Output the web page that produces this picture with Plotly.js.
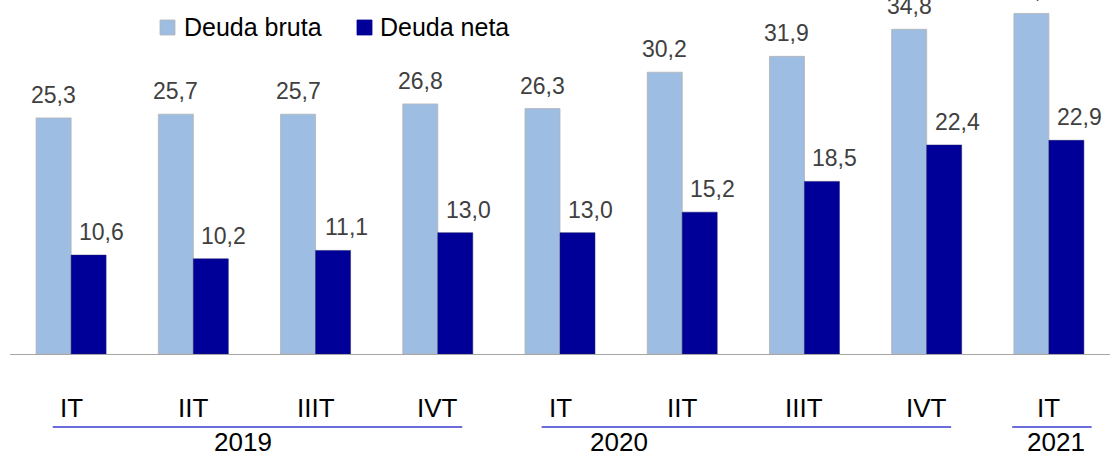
<!DOCTYPE html>
<html>
<head>
<meta charset="utf-8">
<script src="https://cdn.plot.ly/plotly-3.0.1.min.js"></script>
<style>html,body{margin:0;padding:0;background:#fff;}#chart{width:1110px;height:457px;}</style>
</head>
<body>
<div id="chart"></div>
<script>
// ---- data ----
var quarters = ["IT", "IIT", "IIIT", "IVT", "IT", "IIT", "IIIT", "IVT", "IT"];
var years = ["2019", "2019", "2019", "2019", "2020", "2020", "2020", "2020", "2021"];
var seriesNames = ["Deuda bruta", "Deuda neta"];
var deudaBruta = [25.3, 25.7, 25.7, 26.8, 26.3, 30.2, 31.9, 34.8, 36.5];
var deudaNeta = [10.6, 10.2, 11.1, 13.0, 13.0, 15.2, 18.5, 22.4, 22.9];
var yearGroups = ["2019", "2020", "2021"];

// ---- style / layout constants ----
var W = 1110, H = 457, ML = 10, MR = 0, MT = 0, MB = 103;
var PW = W - ML - MR, PH = H - MT - MB;
var colBruta = "#9dbde3", colNeta = "#000099";
var FONT = "Liberation Sans, Arial, sans-serif";
function px2px(x) { return (x - ML) / PW; }      // pixel -> paper x
function py2py(y) { return (PH + MT - y) / PH; }  // pixel -> paper y
function fmt(v) { return v.toFixed(1).replace(".", ","); }

var cats = quarters.map(function (q, i) { return q + " " + years[i]; });

var traces = [
  { type: "bar", name: seriesNames[0], x: cats, y: deudaBruta,
    marker: { color: colBruta, line: { color: "#b4b4b4", width: 0.8 } }, hoverinfo: "skip" },
  { type: "bar", name: seriesNames[1], x: cats, y: deudaNeta,
    marker: { color: colNeta, line: { color: "#1a1a66", width: 0.5 } }, hoverinfo: "skip" }
];

var annotations = [];
var shapes = [];
var barHalf = 17.5; // half of one bar width in px
// value labels
deudaBruta.forEach(function (v, i) {
  annotations.push({ xref: "x", yref: "y", x: cats[i], y: v, text: fmt(v), showarrow: false,
    xanchor: "center", yanchor: "bottom", xshift: -barHalf, yshift: 8,
    font: { family: FONT, size: 23, color: "#404040" } });
});
deudaNeta.forEach(function (v, i) {
  annotations.push({ xref: "x", yref: "y", x: cats[i], y: v, text: fmt(v), showarrow: false,
    xanchor: "center", yanchor: "bottom", xshift: barHalf + 13, yshift: 8,
    font: { family: FONT, size: 23, color: "#404040" } });
});
// quarter labels
quarters.forEach(function (q, i) {
  annotations.push({ xref: "x", yref: "paper", x: cats[i], y: py2py(408), text: q, showarrow: false,
    xanchor: "center", yanchor: "middle", font: { family: FONT, size: 26, color: "#000" } });
});
// year groups: underline + label
var lineStartOff = -0.15, lineEndOff = 0.2;
yearGroups.forEach(function (yr) {
  var idx = [];
  years.forEach(function (y, i) { if (y === yr) idx.push(i); });
  var a = idx[0], b = idx[idx.length - 1];
  var x0 = a + lineStartOff, x1 = b + lineEndOff;
  if (a === b) { x0 = a - 0.3; x1 = a + 0.35; }
  shapes.push({ type: "line", xref: "x", yref: "paper", x0: x0, x1: x1, y0: py2py(427), y1: py2py(427),
    line: { color: "#3b3bd0", width: 1.6 } });
  var mid = (a + b) / 2;
  var lx = yr === "2019" ? mid - 0.09 : (yr === "2020" ? mid - 1.02 : mid + 0.06);
  annotations.push({ xref: "x", yref: "paper", x: lx, y: py2py(442), text: yr, showarrow: false,
    xanchor: "center", yanchor: "middle", font: { family: FONT, size: 26, color: "#000" } });
});
// legend (custom)
var legendItems = [
  { name: seriesNames[0], color: colBruta, line: "#b4b4b4", sx: 160, tx: 182 },
  { name: seriesNames[1], color: colNeta, line: colNeta, sx: 357, tx: 378 }
];
legendItems.forEach(function (it) {
  shapes.push({ type: "rect", xref: "paper", yref: "paper",
    x0: px2px(it.sx), x1: px2px(it.sx + 15), y0: py2py(35), y1: py2py(20),
    fillcolor: it.color, line: { color: it.line, width: 0.8 } });
  annotations.push({ xref: "paper", yref: "paper", x: px2px(it.tx), y: py2py(27), text: it.name,
    showarrow: false, xanchor: "left", yanchor: "middle",
    font: { family: FONT, size: 25, color: "#000" } });
});

var layout = {
  width: W, height: H,
  margin: { l: ML, r: MR, t: MT, b: MB, pad: 0 },
  paper_bgcolor: "#fff", plot_bgcolor: "#fff",
  barmode: "group", bargap: 0.4274, bargroupgap: 0,
  showlegend: false,
  xaxis: { type: "category", showticklabels: false, ticks: "", showgrid: false, zeroline: false,
    showline: true, linecolor: "#a6a6a6", linewidth: 1, fixedrange: true },
  yaxis: { range: [0, 37.94], visible: false, showgrid: false, zeroline: false, fixedrange: true },
  annotations: annotations,
  shapes: shapes,
  font: { family: FONT }
};

Plotly.newPlot("chart", traces, layout, { staticPlot: true, displayModeBar: false });
</script>
</body>
</html>
